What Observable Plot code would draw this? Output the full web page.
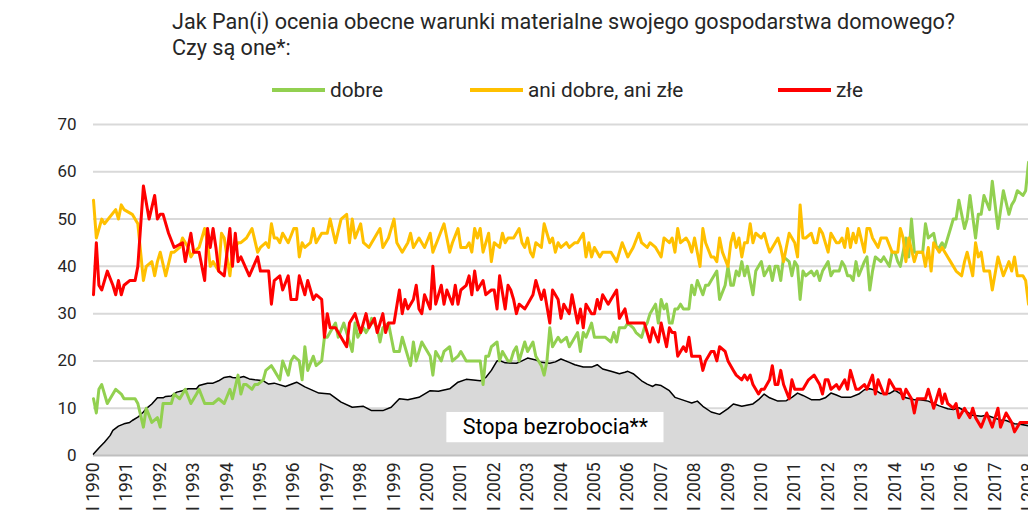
<!DOCTYPE html>
<html><head><meta charset="utf-8">
<script src="https://cdn.jsdelivr.net/npm/d3@7"></script>
<script src="https://cdn.jsdelivr.net/npm/@observablehq/plot@0.6"></script>
<style>
body{margin:0;background:#fff;font-family:Roboto,sans-serif;width:1028px;height:517px;overflow:hidden;position:relative;color:#262626}
#title{position:absolute;left:172px;top:9px;font-size:21.6px;line-height:26px;white-space:nowrap}
.item{position:absolute;top:78px;height:24px;display:flex;align-items:center;font-size:20.8px;white-space:nowrap}
.sw{width:53px;height:4px;margin-right:5px}
#pct{position:absolute;left:11px;top:256px;font-size:17px}
#chart{position:absolute;left:0;top:105px}
</style></head>
<body>
<div id="title">Jak Pan(i) ocenia obecne warunki materialne swojego gospodarstwa domowego?<br>Czy są one*:</div>
<div id="legend"></div>
<div id="pct">%</div>
<div id="chart"></div>
<script>
// months counted from January 1990
const seriesNames = ["dobre", "ani dobre, ani złe", "złe"];
const seriesColors = ["#92d050", "#ffc000", "#ff0000"];
const yTicks = [0, 10, 20, 30, 40, 50, 60, 70];
const tickYears = d3.range(1990, 2019);

const goodMonths = [0,1,2,3,5,8,10,11,15,16,18,19,21,23,24,25,28,29,31,33,35,37,38,40,43,45,47,49,50,52,53,54,55,57,58,59,61,62,64,65,67,68,70,71,72,74,75,76,77,79,80,82,83,84,86,87,88,90,91,93,94,95,97,98,99,100,102,103,104,106,108,110,111,112,114,115,116,118,119,121,122,123,125,126,128,129,131,132,134,135,137,139,140,141,142,143,145,146,147,149,150,151,152,153,155,156,158,159,161,162,163,164,165,167,168,170,171,173,174,175,176,177,179,180,182,184,186,187,188,189,191,192,194,195,197,198,199,200,202,203,204,205,206,207,208,209,210,211,212,214,215,216,217,219,220,221,222,223,224,225,227,228,229,230,231,232,233,234,235,237,238,239,240,241,243,244,245,246,247,248,250,251,252,253,254,255,256,258,259,260,261,262,264,265,266,268,269,270,271,272,273,274,275,277,278,279,280,281,283,284,286,287,288,289,290,292,293,294,295,297,298,299,300,302,303,304,305,306,308,309,310,311,313,314,315,317,318,319,320,322,323,325,327,329,330,331,332,334,335,336];
const goodValues = [12,9,14,15,11,14,13,12,12,11,6,10,7,8,6,11,11,13,12,14,11,13,14,11,11,12,11,14,12,17,13,15,15,14,15,15,16,18,19,18,16,20,17,20,21,20,16,23,18,21,19,20,25,25,27,28,25,28,26,22,28,25,27,26,27,29,27,24,27,28,22,22,25,23,19,24,20,24,23,21,17,22,20,22,23,20,21,22,20,20,20,20,15,21,21,23,24,20,22,20,20,22,23,20,24,22,24,21,19,17,20,27,23,25,24,25,23,25,26,22,26,25,28,25,25,25,24,26,24,27,27,28,27,26,25,27,28,30,32,28,33,31,32,28,28,31,31,32,31,31,36,34,37,34,36,36,37,38,39,33,36,40,36,36,39,38,41,38,40,34,39,40,41,38,40,37,40,40,37,42,41,38,41,40,33,39,38,39,38,39,37,39,41,38,39,39,41,40,38,38,37,41,38,41,42,35,39,42,41,42,40,43,43,41,40,46,42,50,43,43,43,49,46,47,44,44,45,44,48,50,50,54,48,50,55,46,51,51,55,52,58,48,56,51,53,54,56,55,56,62];

const neutralMonths = [0,1,3,4,8,9,10,11,14,16,18,19,21,22,23,24,26,28,29,31,32,34,35,36,38,40,41,42,43,45,46,47,49,50,51,52,53,55,57,59,60,62,63,64,65,66,67,68,70,72,73,74,75,76,78,79,80,82,84,85,87,89,91,92,93,94,96,97,99,101,103,104,106,108,109,111,113,114,115,117,119,121,122,124,126,128,129,131,132,134,135,136,137,138,139,140,142,143,144,146,147,148,149,151,153,154,155,156,157,158,159,161,162,164,165,166,167,168,170,171,173,174,176,177,178,179,180,182,183,185,186,188,190,192,194,196,197,199,200,202,204,205,207,208,209,210,211,213,214,215,216,218,219,220,222,223,224,225,226,228,229,230,231,232,233,234,235,236,237,238,240,241,242,243,245,246,247,248,249,250,252,253,254,255,256,258,259,260,261,262,264,265,267,268,269,270,271,272,273,274,275,277,278,279,280,282,283,285,287,289,290,291,292,293,295,296,298,299,300,301,302,304,305,306,307,308,310,312,313,314,316,317,318,319,320,322,323,325,327,329,330,331,332,334,335,336];
const neutralValues = [54,46,50,49,52,50,53,52,51,49,37,40,41,38,41,43,38,43,43,44,46,44,42,43,44,48,45,40,41,39,47,46,38,43,44,45,45,46,48,43,44,45,44,49,46,46,45,47,45,48,48,42,45,44,45,48,45,47,47,50,45,50,51,45,50,46,49,45,44,46,48,44,46,50,45,43,45,47,44,46,44,47,43,46,49,43,45,48,44,44,45,43,48,46,48,43,47,41,45,44,47,45,46,46,48,45,44,46,43,42,45,44,49,45,46,43,45,44,45,44,45,45,47,42,45,42,44,42,43,43,43,41,45,42,44,47,45,44,45,44,42,46,45,46,43,48,45,46,45,43,46,40,48,45,42,42,41,46,43,40,45,47,44,46,42,45,45,49,45,47,46,47,45,43,45,46,44,41,44,47,45,42,53,46,46,47,45,45,48,47,43,47,45,45,46,44,48,44,47,45,48,43,48,48,46,44,46,46,43,43,48,46,41,46,41,43,43,40,44,39,45,43,44,43,42,41,39,38,41,43,38,45,42,43,39,39,35,42,38,41,39,42,38,38,37,32];

const badMonths = [0,1,2,3,5,7,8,9,10,11,13,15,16,18,20,22,23,24,25,27,29,32,33,35,36,38,40,41,42,43,44,45,47,49,50,51,52,53,56,59,60,63,64,65,67,68,70,71,73,74,76,77,79,80,82,83,84,85,87,89,91,92,94,96,98,99,101,102,104,105,106,108,110,111,112,113,115,116,117,118,119,121,122,123,125,126,127,129,130,131,132,134,135,136,137,138,140,141,143,144,145,146,148,149,150,151,152,153,155,156,158,159,161,162,164,165,167,168,169,170,171,172,174,175,176,177,179,180,181,182,183,185,186,188,189,191,192,195,198,200,201,203,204,206,207,208,209,210,212,213,214,215,216,218,219,220,222,223,224,225,227,228,230,231,233,234,235,236,237,239,240,241,243,244,245,246,247,248,250,251,252,254,255,257,259,261,262,263,264,265,267,268,270,271,272,274,275,277,278,280,281,282,284,285,286,288,289,290,291,292,294,295,296,298,299,300,302,303,304,305,306,307,309,310,311,313,314,315,316,317,319,321,323,324,325,326,328,330,331,333,336];
const badValues = [34,45,36,35,39,36,34,37,34,36,37,37,40,57,50,55,50,51,51,47,44,45,41,47,43,43,37,48,44,48,44,39,38,48,40,47,41,42,38,42,39,39,32,37,38,35,38,33,33,38,34,37,33,34,33,25,30,27,27,25,23,28,30,26,30,27,29,26,30,26,28,28,35,30,33,31,33,36,31,30,34,31,40,32,36,32,35,32,36,32,35,36,38,34,39,35,37,34,35,35,31,38,31,36,35,33,30,32,31,32,34,37,33,35,28,35,33,29,32,31,30,34,28,31,27,32,30,30,33,31,34,32,33,35,29,31,28,28,28,24,27,24,28,23,27,26,26,21,23,22,25,21,21,21,18,20,22,22,20,23,22,20,18,17,16,17,16,17,15,13,14,14,16,19,15,15,18,15,12,16,14,14,14,16,17,15,13,16,16,14,15,14,16,14,18,14,14,15,14,17,13,16,13,13,16,14,14,14,12,14,12,9,12,12,12,14,10,12,14,11,13,11,10,11,8,10,9,8,10,8,6,9,6,8,10,6,9,7,5,7,7];

const unempMonths = [0,2,4,6,7,9,11,13,14,16,18,19,21,23,25,26,28,30,32,34,37,38,41,43,45,47,49,50,52,54,56,58,61,63,65,69,73,76,81,85,89,93,97,100,104,107,110,113,117,121,124,128,131,134,139,141,143,145,146,148,152,154,156,159,161,164,166,168,171,173,176,179,181,183,186,189,191,192,194,197,199,201,202,204,207,209,213,215,217,219,222,225,228,230,233,237,239,241,243,246,249,251,253,255,258,261,263,265,267,269,272,275,277,279,281,283,286,288,290,292,295,297,300,302,304,307,309,311,314,316,319,321,323,326,328,331,333,336];
const unempValues = [0.3,1.6,2.8,4.2,5.3,6.2,6.7,7.0,7.4,8.1,9.2,9.9,10.9,12.2,12.2,12.5,12.6,13.4,13.7,14.1,14.1,14.8,15.3,15.3,15.8,16.5,16.7,16.5,16.4,16.7,16.2,16.0,15.8,15.1,15.3,14.6,15.5,14.5,13.2,13.0,11.3,10.2,10.4,9.5,9.5,10.2,12.0,11.8,12.3,13.7,13.6,14.1,15.5,16.1,15.8,16.5,18.0,20.0,20.1,19.6,19.5,20.0,20.6,20.2,19.7,19.5,19.8,20.4,19.7,19.2,18.7,18.7,19.2,18.3,17.8,17.3,17.6,17.8,17.3,15.8,15.1,14.6,15.0,14.8,13.7,12.3,11.5,11.1,11.5,10.4,9.2,8.7,9.9,10.9,10.4,10.9,11.8,13.0,12.2,11.5,11.6,12.3,13.2,12.7,11.8,11.8,12.2,13.2,12.8,12.3,12.3,13.0,13.9,14.1,13.8,13.1,13.1,13.8,13.1,12.2,11.8,11.8,11.5,11.0,10.5,9.9,9.7,10.1,9.2,8.5,8.3,8.5,8.1,7.5,7.4,6.7,6.6,6.3];

const unempLabel = "Stopa bezrobocia**";

const toDate = m => new Date(Date.UTC(1990, m, 1));
const mk = (ms, vs) => ms.map((m, i) => ({date: toDate(m), value: vs[i]}));
const good = mk(goodMonths, goodValues);
const neutral = mk(neutralMonths, neutralValues);
const bad = mk(badMonths, badValues);
const unemp = mk(unempMonths, unempValues);

// legend
const legendPos = [272, 470, 778];
const legend = document.getElementById("legend");
seriesNames.forEach((n, i) => {
  const it = document.createElement("div");
  it.className = "item";
  it.style.left = legendPos[i] + "px";
  it.innerHTML = `<span class="sw" style="background:${seriesColors[i]}"></span><span>${n}</span>`;
  legend.appendChild(it);
});

const plot = Plot.plot({
  width: 1028, height: 420,
  marginTop: 19, marginBottom: 70, marginLeft: 93, marginRight: 0,
  style: {fontFamily: "Roboto, sans-serif", fontSize: "17px", color: "#262626", background: "white", overflow: "visible"},
  x: {type: "utc", domain: [toDate(0), toDate(336)], axis: null},
  y: {domain: [0, 70], axis: null},
  marks: [
    Plot.ruleY(yTicks.filter(d => d > 0), {stroke: "#d9d9d9", strokeWidth: 2}),
    Plot.areaY(unemp, {x: "date", y: "value", fill: "#d9d9d9"}),
    Plot.ruleY([0], {stroke: "#bfbfbf", strokeWidth: 2}),
    Plot.lineY(unemp, {x: "date", y: "value", stroke: "#000", strokeWidth: 1.5}),
    Plot.lineY(good, {x: "date", y: "value", stroke: seriesColors[0], strokeWidth: 3}),
    Plot.lineY(neutral, {x: "date", y: "value", stroke: seriesColors[1], strokeWidth: 3}),
    Plot.lineY(bad, {x: "date", y: "value", stroke: seriesColors[2], strokeWidth: 3}),
    Plot.rect([{x1: toDate(127), x2: toDate(205), y1: 2.7, y2: 9.1}], {x1: "x1", x2: "x2", y1: "y1", y2: "y2", fill: "white"}),
    Plot.text([unempLabel], {x: toDate(166), y: 5.9, text: d => d, fontSize: 21.5, fill: "#000"}),
    Plot.axisY({ticks: yTicks, tickSize: 0, tickPadding: 17, fontSize: 17, label: null}),
    Plot.axisX({ticks: tickYears.map(y => new Date(Date.UTC(y, 0, 1))), tickSize: 0, tickRotate: -90, tickPadding: 7, fontSize: 17.5, label: null, tickFormat: d => "I " + d.getUTCFullYear()})
  ]
});
document.getElementById("chart").appendChild(plot);
</script>
</body></html>
